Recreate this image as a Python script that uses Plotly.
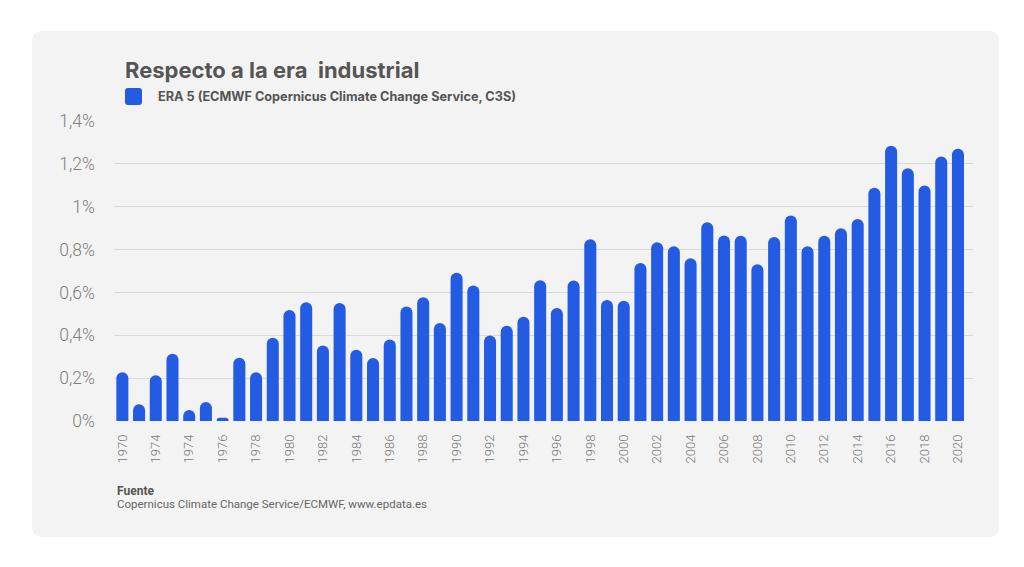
import plotly.graph_objects as go

# ---- data ----
years = list(range(1970, 2021))
values = [0.227, 0.078, 0.214, 0.314, 0.051, 0.089, 0.015, 0.295, 0.227, 0.388,
          0.518, 0.554, 0.352, 0.551, 0.332, 0.294, 0.380, 0.534, 0.577, 0.457,
          0.692, 0.632, 0.399, 0.444, 0.487, 0.657, 0.527, 0.656, 0.848, 0.565,
          0.561, 0.737, 0.834, 0.815, 0.759, 0.927, 0.866, 0.864, 0.731, 0.859,
          0.959, 0.815, 0.864, 0.900, 0.943, 1.088, 1.285, 1.180, 1.099, 1.234,
          1.271]
tick_years = years[::2]
tick_labels = ["1970", "1974", "1974", "1976", "1978", "1980", "1982", "1984",
               "1986", "1988", "1990", "1992", "1994", "1996", "1998", "2000",
               "2002", "2004", "2006", "2008", "2010", "2012", "2014", "2016",
               "2018", "2020"]
y_ticks = [0, 0.2, 0.4, 0.6, 0.8, 1.0, 1.2, 1.4]
y_labels = ["0%", "0,2%", "0,4%", "0,6%", "0,8%", "1%", "1,2%", "1,4%"]

title = "Respecto a la era\u00a0 industrial"
series_name = "ERA 5 (ECMWF Copernicus Climate Change Service, C3S)"
source_head = "Fuente"
source_text = "Copernicus Climate Change Service/ECMWF, www.epdata.es"

# ---- layout geometry (page pixels; page body has an 8px margin) ----
OFF = 8
WIDTH, HEIGHT = 1024 - OFF, 567 - OFF
PW, PH = 859, 300
L, T = 114 - OFF, 121 - OFF
R = WIDTH - L - PW
B = HEIGHT - T - PH
BLUE = "#245be3"
FONT = "Roboto"
HEAD_FONT = "Inter"


def fx(px):
    return (px - OFF - L) / PW


def fy(py):
    return (HEIGHT - B - (py - OFF)) / PH


def rounded_rect(x0, y0, x1, y1, r):
    pts = [
        f"M {fx(x0 + r)} {fy(y0)}",
        f"L {fx(x1 - r)} {fy(y0)}",
        f"Q {fx(x1)} {fy(y0)} {fx(x1)} {fy(y0 + r)}",
        f"L {fx(x1)} {fy(y1 - r)}",
        f"Q {fx(x1)} {fy(y1)} {fx(x1 - r)} {fy(y1)}",
        f"L {fx(x0 + r)} {fy(y1)}",
        f"Q {fx(x0)} {fy(y1)} {fx(x0)} {fy(y1 - r)}",
        f"L {fx(x0)} {fy(y0 + r)}",
        f"Q {fx(x0)} {fy(y0)} {fx(x0 + r)} {fy(y0)}",
        "Z",
    ]
    return " ".join(pts)


fig = go.Figure()
fig.add_trace(go.Bar(
    x=years, y=values, name=series_name,
    marker=dict(color=BLUE, cornerradius=6, line=dict(width=0)),
    showlegend=False,
    hovertemplate="%{x}: %{y:.2f}%<extra></extra>",
))

shapes = [
    dict(type="path", xref="paper", yref="paper",
         path=rounded_rect(32, 31, 999, 537, 11),
         fillcolor="#f3f3f3", line=dict(width=0), layer="below"),
    dict(type="path", xref="paper", yref="paper",
         path=rounded_rect(125, 88, 142, 105, 3),
         fillcolor=BLUE, line=dict(width=0), layer="above"),
]

annotations = [
    dict(text=f"<b>{title}</b>", x=fx(123), y=fy(70), xref="paper", yref="paper",
         xanchor="left", yanchor="middle", showarrow=False,
         font=dict(family=HEAD_FONT, size=22, color="#555555")),
    dict(text=f"<b>{series_name}</b>", x=fx(156), y=fy(97), xref="paper", yref="paper",
         xanchor="left", yanchor="middle", showarrow=False,
         font=dict(family=HEAD_FONT, size=12.7, color="#555555")),
    dict(text=f"<b>{source_head}</b>", x=fx(115), y=fy(491), xref="paper", yref="paper",
         xanchor="left", yanchor="middle", showarrow=False,
         font=dict(family=FONT, size=12, color="#555555")),
    dict(text=source_text, x=fx(115), y=fy(504), xref="paper", yref="paper",
         xanchor="left", yanchor="middle", showarrow=False,
         font=dict(family=FONT, size=11.5, color="#666666")),
]

fig.update_layout(
    width=WIDTH, height=HEIGHT,
    margin=dict(l=L, r=R, t=T, b=B, pad=0),
    paper_bgcolor="#ffffff",
    plot_bgcolor="rgba(0,0,0,0)",
    bargap=0.28,
    shapes=shapes,
    annotations=annotations,
    font=dict(family=FONT),
    xaxis=dict(
        range=[1969.5, 2020.9],
        tickmode="array", tickvals=tick_years, ticktext=tick_labels,
        tickangle=-90, showgrid=False, zeroline=False, showline=False,
        ticks="", ticklabelstandoff=10,
        tickfont=dict(family=FONT, size=13, color="#777777", weight=300),
        fixedrange=True,
    ),
    yaxis=dict(
        range=[0, 1.4],
        tickmode="array", tickvals=y_ticks, ticktext=y_labels,
        showgrid=True, gridcolor="#d9d9d9", gridwidth=1,
        zeroline=False, showline=False, ticks="",
        ticklabelstandoff=18,
        tickfont=dict(family=FONT, size=17.5, color="#808080", weight=300),
        fixedrange=True,
    ),
)

fig.write_html("out.html")
